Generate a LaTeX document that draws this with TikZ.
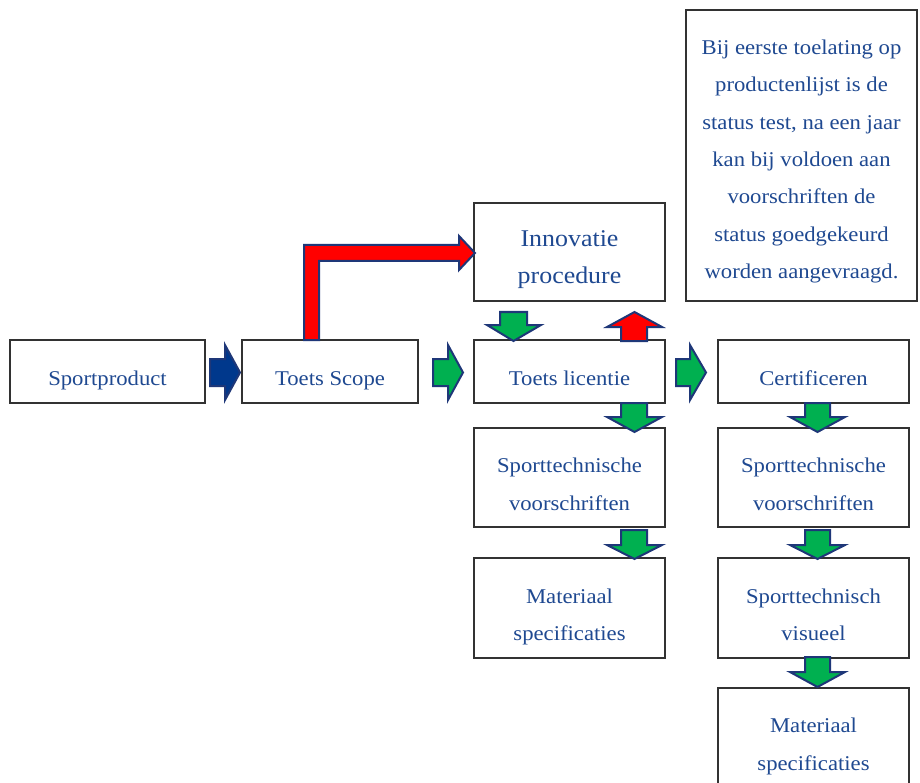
\documentclass[tikz,border=0pt]{standalone}
\usepackage{fontspec}
\setmainfont{Liberation Serif}[FakeStretch=1.08]
\definecolor{txtblue}{RGB}{31,73,145}
\definecolor{boxgray}{RGB}{50,50,50}
\definecolor{navy}{RGB}{30,55,120}
\definecolor{darkfill}{RGB}{0,56,140}
\definecolor{agreen}{RGB}{0,176,80}
\definecolor{ared}{RGB}{255,0,0}
\begin{document}
\begin{tikzpicture}[x=1pt,y=-1pt,
  box/.style={draw=boxgray, line width=1.2pt, fill=white, inner sep=0pt},
  txt/.style={text=txtblue, align=center, inner sep=0pt, font=\fontsize{21}{37.3}\selectfont},
  bigtxt/.style={text=txtblue, align=center, inner sep=0pt, font=\fontsize{24}{37}\selectfont},
  blk/.style={draw=navy, line width=2pt, line join=miter},
  garrow/.style={blk, fill=agreen},
  rarrow/.style={blk, fill=ared},
  barrow/.style={blk, fill=darkfill}]
\clip (0,0) rectangle (920,783);
\fill[white] (0,0) rectangle (920,783);

% boxes
\node[box, minimum width=195pt, minimum height=63pt] (sp) at (107.5,371.5) {};
\node[box, minimum width=176pt, minimum height=63pt] (ts) at (330,371.5) {};
\node[box, minimum width=191pt, minimum height=98pt] (inn) at (569.5,252) {};
\node[box, minimum width=191pt, minimum height=63pt] (tl) at (569.5,371.5) {};
\node[box, minimum width=191pt, minimum height=63pt] (cert) at (813.5,371.5) {};
\node[box, minimum width=191pt, minimum height=99pt] (stl) at (569.5,477.5) {};
\node[box, minimum width=191pt, minimum height=100pt] (mal) at (569.5,608) {};
\node[box, minimum width=191pt, minimum height=99pt] (str) at (813.5,477.5) {};
\node[box, minimum width=191pt, minimum height=100pt] (vis) at (813.5,608) {};
\node[box, minimum width=191pt, minimum height=99pt] (mar) at (813.5,737.5) {};
\node[box, minimum width=231pt, minimum height=291pt] (note) at (801.5,155.5) {};

% texts
\node[txt] (tsp) at ([yshift=-7pt]sp.center) {\strut Sportproduct};
\node[txt] (tts) at ([yshift=-7pt]ts.center) {\strut Toets Scope};
\node[bigtxt] (tinn) at ([yshift=-6pt]inn.center) {\strut Innovatie\\\strut procedure};
\node[txt] (ttl) at ([yshift=-7pt]tl.center) {\strut Toets licentie};
\node[txt] (tcert) at ([yshift=-7pt]cert.center) {\strut Certificeren};
\node[txt] (tstl) at ([yshift=-6.5pt]stl.center) {\strut Sporttechnische\\\strut voorschriften};
\node[txt] (tmal) at ([yshift=-6.5pt]mal.center) {\strut Materiaal\\\strut specificaties};
\node[txt] (tstr) at ([yshift=-6.5pt]str.center) {\strut Sporttechnische\\\strut voorschriften};
\node[txt] (tvis) at ([yshift=-6.5pt]vis.center) {\strut Sporttechnisch\\\strut visueel};
\node[txt] (tmar) at ([yshift=-6.5pt]mar.center) {\strut Materiaal\\\strut specificaties};
\node[txt] (tnote) at ([yshift=-3.5pt]note.center) {\strut Bij eerste toelating op\\\strut productenlijst is de\\\strut status test, na een jaar\\\strut kan bij voldoen aan\\\strut voorschriften de\\\strut status goedgekeurd\\\strut worden aangevraagd.};

% right block arrows
\draw[barrow] (210,359) -- (225,359) -- (225,345) -- (240,372.5) -- (225,400) -- (225,386) -- (210,386) -- cycle;
\draw[garrow] (433,359) -- (448,359) -- (448,345) -- (463,372.5) -- (448,400) -- (448,386) -- (433,386) -- cycle;
\draw[garrow] (676,359) -- (690,359) -- (690,345) -- (706,372.5) -- (690,400) -- (690,386) -- (676,386) -- cycle;

% red elbow arrow
\draw[rarrow] (304,340) -- (304,245) -- (459,245) -- (459,236) -- (475,253) -- (459,270) -- (459,261) -- (319,261) -- (319,340) -- cycle;

% down arrow innovatie -> toets licentie
\draw[garrow] (500,312) -- (527,312) -- (527,325) -- (541,325) -- (513.5,341) -- (487,325) -- (500,325) -- cycle;
% red up arrow
\draw[rarrow] (621,341) -- (621,327) -- (607,327) -- (634.5,312) -- (662,327) -- (647,327) -- (647,341) -- cycle;

% left column down arrows
\draw[garrow] (621,403) -- (647,403) -- (647,417) -- (662,417) -- (634.5,432) -- (607,417) -- (621,417) -- cycle;
\draw[garrow] (621,530) -- (647,530) -- (647,545) -- (662,545) -- (634.5,559) -- (607,545) -- (621,545) -- cycle;

% right column down arrows
\draw[garrow] (805,403) -- (830,403) -- (830,417) -- (845,417) -- (817.5,432) -- (790,417) -- (805,417) -- cycle;
\draw[garrow] (805,530) -- (830,530) -- (830,545) -- (845,545) -- (817.5,559) -- (790,545) -- (805,545) -- cycle;
\draw[garrow] (805,657) -- (830,657) -- (830,672) -- (845,672) -- (817.5,687) -- (790,672) -- (805,672) -- cycle;
\end{tikzpicture}
\end{document}
